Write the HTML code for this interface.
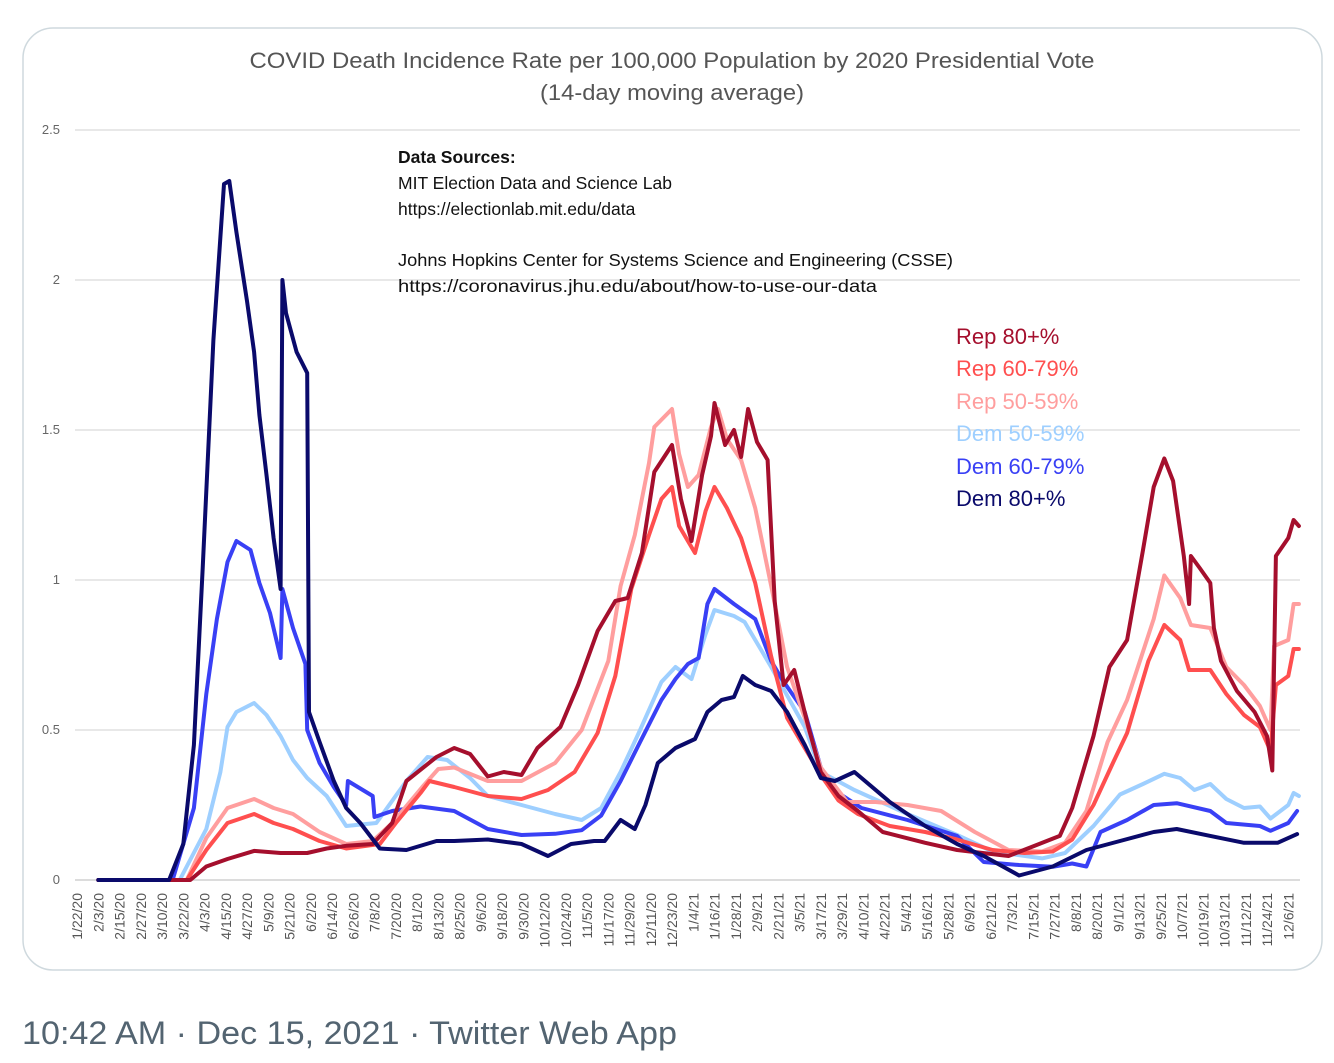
<!DOCTYPE html>
<html><head><meta charset="utf-8"><style>
html,body{margin:0;padding:0;background:#fff;}
body{width:1334px;height:1058px;overflow:hidden;font-family:"Liberation Sans",sans-serif;}
svg text{font-family:"Liberation Sans",sans-serif;}
</style></head><body>
<svg id="chart" width="1334" height="1058" viewBox="0 0 1334 1058" xmlns="http://www.w3.org/2000/svg">
<rect x="23" y="28" width="1299" height="942" rx="30" fill="#fff" stroke="#cfd9de" stroke-width="1.5"/>
<text x="672" y="68" text-anchor="middle" font-size="22" textLength="845" lengthAdjust="spacingAndGlyphs" fill="#555">COVID Death Incidence Rate per 100,000 Population by 2020 Presidential Vote</text>
<text x="672" y="100" text-anchor="middle" font-size="22" textLength="264" lengthAdjust="spacingAndGlyphs" fill="#555">(14-day moving average)</text>
<g id="grid"></g>
<g id="yticks"></g>
<g id="xticks"></g>
<g font-size="17.5" fill="#111">
<text x="398" y="163" font-weight="bold">Data Sources:</text>
<text x="398" y="189">MIT Election Data and Science Lab</text>
<text x="398" y="215">https://electionlab.mit.edu/data</text>
<text x="398" y="266" textLength="555" lengthAdjust="spacingAndGlyphs">Johns Hopkins Center for Systems Science and Engineering (CSSE)</text>
<text x="398" y="292" textLength="479" lengthAdjust="spacingAndGlyphs">https://coronavirus.jhu.edu/about/how-to-use-our-data</text>
</g>
<g id="lines"></g>
<g font-size="22">
<text x="956" y="344" fill="#a50f2d">Rep 80+%</text>
<text x="956" y="376" fill="#ff4f4f">Rep 60-79%</text>
<text x="956" y="409" fill="#ff9e9e">Rep 50-59%</text>
<text x="956" y="441" fill="#9ecfff">Dem 50-59%</text>
<text x="956" y="474" fill="#3940f5">Dem 60-79%</text>
<text x="956" y="506" fill="#0a0a6b">Dem 80+%</text>
</g>
<text x="22" y="1044" font-size="32" textLength="655" lengthAdjust="spacingAndGlyphs" fill="#536471">10:42 AM · Dec 15, 2021 · Twitter Web App</text>
</svg>
<script>
const yTicks=[0,0.5,1,1.5,2,2.5];
const yTickLabels=["0","0.5","1","1.5","2","2.5"];
const xLabels=["1/22/20","2/3/20","2/15/20","2/27/20","3/10/20","3/22/20","4/3/20","4/15/20","4/27/20","5/9/20","5/21/20","6/2/20","6/14/20","6/26/20","7/8/20","7/20/20","8/1/20","8/13/20","8/25/20","9/6/20","9/18/20","9/30/20","10/12/20","10/24/20","11/5/20","11/17/20","11/29/20","12/11/20","12/23/20","1/4/21","1/16/21","1/28/21","2/9/21","2/21/21","3/5/21","3/17/21","3/29/21","4/10/21","4/22/21","5/4/21","5/16/21","5/28/21","6/9/21","6/21/21","7/3/21","7/15/21","7/27/21","8/8/21","8/20/21","9/1/21","9/13/21","9/25/21","10/7/21","10/19/21","10/31/21","11/12/21","11/24/21","12/6/21"];
const labelStepDays=12;

const dem80Days=[12,52,60,66,71,77,83,86,90,96,100,103,107,111,115,116,118,124,130,131,137,145,152,160,171,186,203,213,232,251,266,279,292,298,307,315,321,328,338,349,356,364,371,376,383,392,401,411,420,428,439,443,459,479,497,512,532,551,570,589,608,621,640,659,678,689];
const dem80Vals=[0,0,0.12,0.45,1.04,1.8,2.32,2.33,2.16,1.93,1.76,1.55,1.35,1.14,0.97,2.0,1.89,1.76,1.69,0.56,0.46,0.33,0.24,0.19,0.105,0.1,0.13,0.13,0.135,0.12,0.08,0.12,0.13,0.13,0.2,0.17,0.25,0.39,0.44,0.47,0.56,0.6,0.61,0.68,0.65,0.63,0.56,0.45,0.34,0.33,0.36,0.34,0.26,0.18,0.12,0.08,0.015,0.045,0.1,0.13,0.16,0.17,0.147,0.124,0.124,0.153];

const dem60Days=[12,54,66,73,79,85,90,98,103,109,115,116,122,129,130,137,145,152,153,167,168,178,194,213,232,251,270,285,296,307,318,330,338,345,351,356,360,371,383,392,398,411,420,430,443,469,497,512,532,551,562,570,578,593,608,621,640,649,668,674,684,689];
const dem60Vals=[0,0,0.24,0.62,0.87,1.06,1.13,1.1,0.99,0.89,0.74,0.97,0.84,0.72,0.5,0.39,0.31,0.25,0.33,0.28,0.21,0.23,0.245,0.23,0.17,0.15,0.154,0.166,0.215,0.33,0.46,0.6,0.67,0.72,0.74,0.92,0.97,0.92,0.87,0.73,0.67,0.56,0.375,0.29,0.24,0.2,0.147,0.06,0.05,0.044,0.055,0.045,0.16,0.2,0.25,0.256,0.23,0.19,0.18,0.164,0.19,0.23];

const dem50Days=[12,58,73,81,85,90,100,107,115,122,130,141,152,169,186,198,209,222,232,251,270,285,296,307,318,330,338,347,355,360,371,377,392,411,420,439,469,497,517,545,558,574,589,602,614,623,631,640,649,659,668,674,684,687,690];
const dem50Vals=[0,0,0.17,0.36,0.51,0.56,0.59,0.55,0.48,0.4,0.34,0.28,0.18,0.19,0.33,0.41,0.4,0.34,0.28,0.25,0.22,0.2,0.24,0.36,0.5,0.66,0.71,0.67,0.82,0.9,0.88,0.86,0.71,0.51,0.36,0.3,0.22,0.15,0.095,0.072,0.09,0.18,0.285,0.32,0.354,0.34,0.3,0.32,0.27,0.24,0.245,0.205,0.25,0.29,0.28];

const rep50Days=[12,62,73,85,100,111,122,137,152,167,178,195,204,213,232,251,270,285,300,307,315,323,326,336,340,345,351,358,362,367,375,383,392,401,411,420,435,451,469,488,507,526,545,558,570,582,593,608,614,623,629,640,649,659,668,674,676,684,687,690];
const rep50Vals=[0,0,0.14,0.24,0.27,0.24,0.22,0.16,0.12,0.13,0.19,0.31,0.37,0.375,0.33,0.33,0.39,0.5,0.73,0.98,1.15,1.39,1.51,1.57,1.42,1.31,1.35,1.51,1.57,1.47,1.4,1.24,0.98,0.71,0.54,0.375,0.26,0.26,0.25,0.23,0.16,0.1,0.095,0.124,0.23,0.46,0.6,0.87,1.015,0.94,0.85,0.84,0.71,0.65,0.58,0.5,0.78,0.8,0.92,0.92];

const rep60Days=[12,62,73,85,100,111,122,137,152,171,180,194,199,213,232,251,266,281,294,304,313,323,330,336,340,345,349,355,360,367,375,383,392,401,411,420,430,441,459,479,497,517,535,551,562,574,585,593,605,614,623,628,640,649,659,668,674,677,684,687,690];
const rep60Vals=[0,0,0.1,0.19,0.22,0.19,0.17,0.13,0.105,0.12,0.19,0.29,0.33,0.31,0.28,0.27,0.3,0.36,0.49,0.68,0.97,1.15,1.27,1.31,1.18,1.13,1.09,1.23,1.31,1.24,1.14,0.99,0.745,0.54,0.44,0.35,0.265,0.22,0.18,0.16,0.135,0.1,0.09,0.095,0.135,0.25,0.39,0.49,0.73,0.85,0.8,0.7,0.7,0.62,0.55,0.51,0.43,0.65,0.68,0.77,0.77];

const rep80Days=[12,64,73,85,100,115,130,141,152,167,178,186,203,213,222,232,241,251,260,273,283,294,304,311,319,326,336,341,347,353,358,360,366,371,375,379,384,390,394,399,405,413,420,430,441,455,479,497,526,539,555,562,574,583,593,602,608,614,619,625,628,629,634,640,642,646,655,665,672,675,677,684,687,690];
const rep80Vals=[0,0,0.045,0.07,0.097,0.09,0.09,0.105,0.114,0.12,0.19,0.33,0.41,0.44,0.42,0.345,0.36,0.35,0.44,0.51,0.65,0.83,0.93,0.94,1.09,1.36,1.45,1.27,1.13,1.35,1.48,1.59,1.45,1.5,1.41,1.57,1.46,1.4,0.93,0.65,0.7,0.51,0.36,0.28,0.23,0.16,0.124,0.1,0.08,0.11,0.147,0.24,0.48,0.71,0.8,1.1,1.31,1.405,1.33,1.08,0.92,1.08,1.04,0.99,0.84,0.73,0.63,0.56,0.48,0.365,1.08,1.14,1.2,1.18];

const NS="http://www.w3.org/2000/svg";
const X0=77, PX_PER_DAY=21.25/12, Y0=880, PX_PER_UNIT=300;
function xScale(d){return X0+d*PX_PER_DAY;}
function yScale(v){return Y0-v*PX_PER_UNIT;}

const grid=document.getElementById('grid');
const yt=document.getElementById('yticks');
yTicks.forEach((v,i)=>{
  const l=document.createElementNS(NS,'line');
  
  
  l.setAttribute('x1',75);l.setAttribute('x2',1300);
  l.setAttribute('y1',yScale(v));l.setAttribute('y2',yScale(v));
  l.setAttribute('stroke',v===0?'#c8c8c8':'#d9d9d9');l.setAttribute('stroke-width',1.3);
  grid.appendChild(l);
  const t=document.createElementNS(NS,'text');
  
  
  t.setAttribute('x',60);t.setAttribute('y',yScale(v)+4);
  t.setAttribute('text-anchor','end');t.setAttribute('font-size','13');t.setAttribute('fill','#666');
  t.textContent=yTickLabels[i];
  yt.appendChild(t);
});
const xt=document.getElementById('xticks');
xLabels.forEach((s,i)=>{
  const x=xScale(i*labelStepDays);
  const t=document.createElementNS(NS,'text');
  
  
  t.setAttribute('transform','translate('+(x+5)+',893) rotate(-90)');
  t.setAttribute('text-anchor','end');t.setAttribute('font-size','14');t.setAttribute('fill','#555');
  t.textContent=s;
  xt.appendChild(t);
});
const series=[
  {name:'dem-50-59-line',days:dem50Days,vals:dem50Vals,color:'#9ecfff'},
  {name:'dem-60-79-line',days:dem60Days,vals:dem60Vals,color:'#3940f5'},
  {name:'rep-50-59-line',days:rep50Days,vals:rep50Vals,color:'#ff9e9e'},
  {name:'rep-60-79-line',days:rep60Days,vals:rep60Vals,color:'#ff4f4f'},
  {name:'rep-80-line',days:rep80Days,vals:rep80Vals,color:'#a50f2d'},
  {name:'dem-80-line',days:dem80Days,vals:dem80Vals,color:'#0a0a6b'}
];
const lines=document.getElementById('lines');
series.forEach(s=>{
  const n=Math.min(s.days.length,s.vals.length);
  let d='';
  for(let i=0;i<n;i++){d+=(i?'L':'M')+xScale(s.days[i]).toFixed(1)+','+yScale(s.vals[i]).toFixed(1);}
  const p=document.createElementNS(NS,'path');
  
  
  p.setAttribute('d',d);p.setAttribute('fill','none');p.setAttribute('stroke',s.color);
  p.setAttribute('stroke-width',4);p.setAttribute('stroke-linejoin','round');p.setAttribute('stroke-linecap','round');
  lines.appendChild(p);
});
</script>
</body></html>
